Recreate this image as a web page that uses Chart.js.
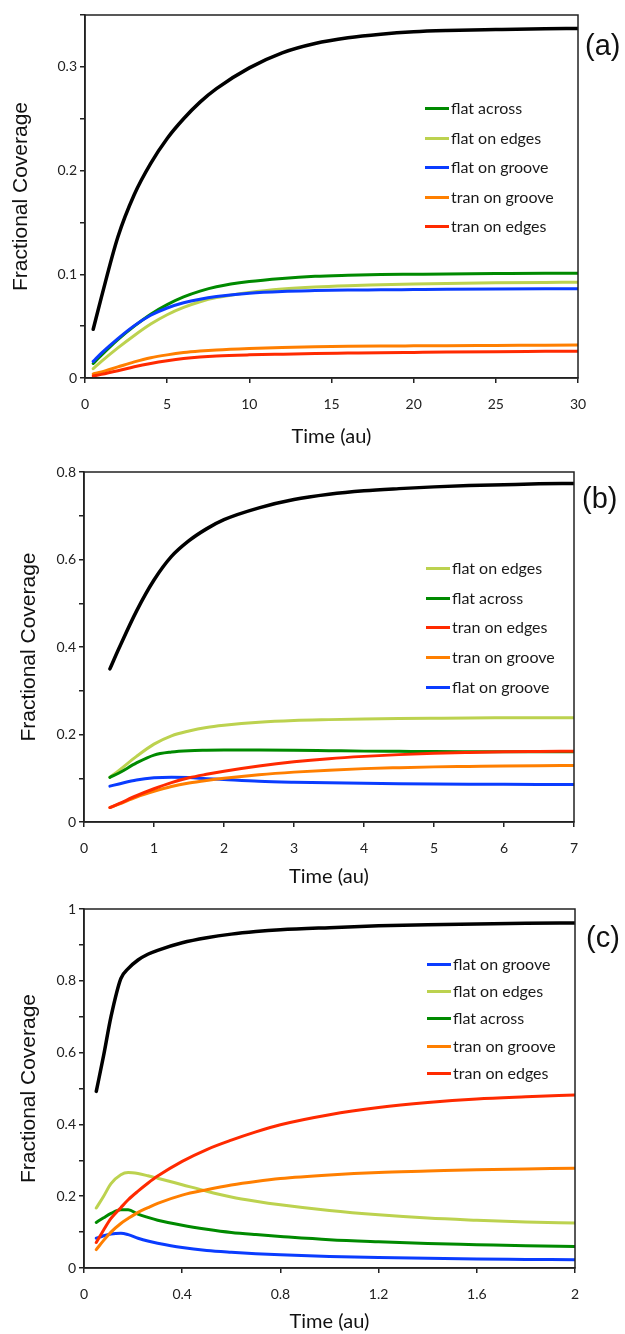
<!DOCTYPE html>
<html>
<head>
<meta charset="utf-8">
<script src="https://cdn.jsdelivr.net/npm/chart.js@4.4.0/dist/chart.umd.min.js"></script>
<style>
html, body { margin: 0; padding: 0; background: #fff; width: 625px; height: 1334px; overflow: hidden; }
.panel { position: absolute; left: 0; width: 625px; }
.tag { position: absolute; font-family: "Liberation Sans", Arial, sans-serif; font-size: 29px; line-height: 34px; color: #111; }
.legend div { position: absolute; white-space: nowrap; font-family: Lato, sans-serif; font-size: 16px; line-height: 20px; color: #1a1a1a; }
.legend span { display: inline-block; width: 24px; height: 3px; vertical-align: middle; margin-right: 2px; position: relative; top: -1px; }
</style>
</head>
<body>
<div class="panel" style="top:0;height:449px"><canvas id="chartA"></canvas></div>
<div class="panel" style="top:460px;height:429px"><canvas id="chartB"></canvas></div>
<div class="panel" style="top:895px;height:439px"><canvas id="chartC"></canvas></div>
<div class="tag" style="left:585px;top:28px">(a)</div>
<div class="tag" style="left:582px;top:481px">(b)</div>
<div class="tag" style="left:586px;top:920px">(c)</div>
<div class="legend" id="legendA"></div>
<div class="legend" id="legendB"></div>
<div class="legend" id="legendC"></div>
<script>
// colours
const colBlack = "#000000";
const colFlatAcross = "#008a00";
const colFlatEdges = "#bcd24f";
const colFlatGroove = "#0a3cff";
const colTranGroove = "#ff7f00";
const colTranEdges = "#ff2a00";

// ---- panel (a) ----
const timeA = [0.5, 1, 2, 3, 4, 5, 6, 7, 8, 10, 12, 14, 16, 18, 20, 22, 25, 28, 30];
const totalA = [0.047, 0.078, 0.136, 0.177, 0.207, 0.231, 0.25, 0.266, 0.279, 0.299, 0.3135, 0.3225, 0.328, 0.3315, 0.3338, 0.335, 0.336, 0.3368, 0.337];
const flatAcrossA = [0.014, 0.022, 0.037, 0.050, 0.0615, 0.0708, 0.0782, 0.0838, 0.088, 0.093, 0.096, 0.098, 0.099, 0.0997, 0.100, 0.1003, 0.1007, 0.101, 0.101];
const flatEdgesA = [0.009, 0.016, 0.029, 0.041, 0.052, 0.061, 0.068, 0.0735, 0.0775, 0.0825, 0.0858, 0.0878, 0.089, 0.0898, 0.0906, 0.0912, 0.0918, 0.0922, 0.0924];
const flatGrooveA = [0.016, 0.024, 0.038, 0.0505, 0.0605, 0.0675, 0.0725, 0.076, 0.0785, 0.0818, 0.0835, 0.0843, 0.0848, 0.085, 0.0853, 0.0856, 0.0859, 0.086, 0.086];
const tranGrooveA = [0.004, 0.0058, 0.0107, 0.0155, 0.0195, 0.0223, 0.0245, 0.026, 0.0271, 0.0285, 0.0295, 0.0301, 0.0305, 0.0308, 0.031, 0.0312, 0.0314, 0.0316, 0.0317];
const tranEdgesA = [0.002, 0.0035, 0.007, 0.0108, 0.014, 0.0166, 0.0187, 0.0202, 0.0212, 0.0223, 0.023, 0.0236, 0.024, 0.0244, 0.0247, 0.025, 0.0254, 0.0257, 0.0259];
const legendOrderA = ["flat across", "flat on edges", "flat on groove", "tran on groove", "tran on edges"];

// ---- panel (b) ----
const timeB = [0.37, 0.5, 0.75, 1, 1.25, 1.5, 1.75, 2, 2.5, 3, 3.5, 4, 4.5, 5, 5.5, 6, 6.5, 7];
const totalB = [0.35, 0.397, 0.482, 0.553, 0.607, 0.643, 0.67, 0.691, 0.718, 0.737, 0.749, 0.757, 0.762, 0.766, 0.769, 0.771, 0.773, 0.774];
const flatEdgesB = [0.102, 0.118, 0.150, 0.178, 0.197, 0.208, 0.216, 0.221, 0.228, 0.232, 0.234, 0.2355, 0.2365, 0.2372, 0.2378, 0.2381, 0.2384, 0.2385];
const flatAcrossB = [0.102, 0.112, 0.135, 0.153, 0.160, 0.163, 0.164, 0.1645, 0.1645, 0.164, 0.163, 0.162, 0.1615, 0.161, 0.1608, 0.1606, 0.1605, 0.1605];
const tranEdgesB = [0.033, 0.042, 0.060, 0.076, 0.090, 0.101, 0.109, 0.116, 0.128, 0.1376, 0.1448, 0.150, 0.154, 0.157, 0.159, 0.1606, 0.1614, 0.162];
const tranGrooveB = [0.033, 0.041, 0.057, 0.070, 0.081, 0.089, 0.095, 0.100, 0.108, 0.114, 0.1185, 0.122, 0.1242, 0.126, 0.127, 0.128, 0.1288, 0.1293];
const flatGrooveB = [0.082, 0.087, 0.096, 0.101, 0.1025, 0.1015, 0.099, 0.097, 0.0932, 0.091, 0.0895, 0.0884, 0.0876, 0.087, 0.0865, 0.0861, 0.0858, 0.0857];
const legendOrderB = ["flat on edges", "flat across", "tran on edges", "tran on groove", "flat on groove"];

// ---- panel (c) ----
const timeC = [0.05, 0.08, 0.11, 0.15, 0.18, 0.22, 0.26, 0.3, 0.4, 0.5, 0.6, 0.7, 0.8, 1.0, 1.2, 1.4, 1.6, 1.8, 2.0];
const totalC = [0.492, 0.592, 0.70, 0.806, 0.834, 0.858, 0.874, 0.885, 0.906, 0.920, 0.930, 0.937, 0.942, 0.948, 0.953, 0.956, 0.958, 0.960, 0.961];
const flatGrooveC = [0.083, 0.090, 0.095, 0.097, 0.093, 0.083, 0.075, 0.069, 0.057, 0.049, 0.044, 0.040, 0.037, 0.032, 0.029, 0.027, 0.025, 0.024, 0.023];
const flatEdgesC = [0.167, 0.20, 0.235, 0.26, 0.266, 0.263, 0.257, 0.25, 0.232, 0.214, 0.198, 0.186, 0.176, 0.160, 0.148, 0.139, 0.133, 0.128, 0.125];
const flatAcrossC = [0.127, 0.140, 0.152, 0.162, 0.162, 0.150, 0.141, 0.133, 0.119, 0.108, 0.099, 0.093, 0.088, 0.079, 0.073, 0.068, 0.065, 0.062, 0.060];
const tranGrooveC = [0.051, 0.077, 0.10, 0.124, 0.138, 0.155, 0.168, 0.18, 0.203, 0.218, 0.231, 0.241, 0.249, 0.259, 0.266, 0.270, 0.274, 0.276, 0.278];
const tranEdgesC = [0.071, 0.106, 0.138, 0.168, 0.19, 0.214, 0.236, 0.256, 0.297, 0.330, 0.356, 0.379, 0.399, 0.427, 0.447, 0.461, 0.471, 0.477, 0.482];
const legendOrderC = ["flat on groove", "flat on edges", "flat across", "tran on groove", "tran on edges"];

// axis ticks
const yMaxA = 0.35, yStepA = 0.05, xMaxA = 30, xStepA = 5;
const yMaxB = 0.8, yStepB = 0.1, xMaxB = 7, xStepB = 1;
const yMaxC = 1, yStepC = 0.1, xMaxC = 2, xStepC = 0.4;

const frame = {
  id: 'frame',
  afterDatasetsDraw(chart) {
    const a = chart.chartArea, ctx = chart.ctx;
    ctx.save();
    ctx.strokeStyle = '#222';
    ctx.lineWidth = 1.5;
    ctx.strokeRect(a.left, a.top, a.right - a.left, a.bottom - a.top);
    ctx.restore();
  }
};

function pts(xs, ys) {
  return xs.map((x, i) => ({x: x, y: ys[i]}));
}

function ds(label, xs, ys, color, width) {
  return {
    label: label, data: pts(xs, ys), borderColor: color, backgroundColor: color,
    borderWidth: width || 3, pointRadius: 0, fill: false,
    cubicInterpolationMode: 'monotone', borderCapStyle: 'round'
  };
}

function fmt(v) { return String(Number(v.toFixed(2))); }

function makePanel(id, datasets, cfg) {
  new Chart(id, {
    type: 'line',
    data: {datasets: datasets},
    plugins: [frame],
    options: {
      responsive: true, maintainAspectRatio: false, animation: false,
      layout: {padding: {top: cfg.padTop, left: cfg.padLeft, right: cfg.padRight, bottom: 0}},
      plugins: {legend: {display: false}, tooltip: {enabled: false}},
      scales: {
        x: {
          type: 'linear', min: 0, max: cfg.xMax,
          afterFit: s => { s.height = cfg.xHeight; },
          ticks: {stepSize: cfg.xStep, autoSkip: false, padding: 13, color: '#222',
            font: {family: 'Lato', size: 14}, maxRotation: 0, callback: v => fmt(v)},
          grid: {drawOnChartArea: false, tickLength: 5, color: '#222', lineWidth: 1.5},
          border: {color: '#222', width: 1.5},
          title: {display: true, text: 'Time (au)', color: '#111', padding: {top: 4, bottom: 0},
            font: {family: 'Lato', size: 20}}
        },
        y: {
          min: 0, max: cfg.yMax,
          afterFit: s => { s.width = cfg.yWidth; },
          ticks: {stepSize: cfg.yStep, padding: 3, color: '#222', font: {family: 'Lato', size: 14},
            callback: v => {
              const k = Math.round(v / cfg.yStep);
              return k % 2 === 0 ? fmt(v) : '';
            }},
          grid: {drawOnChartArea: false, tickLength: 5, color: '#222', lineWidth: 1.5},
          border: {color: '#222', width: 1.5},
          title: {display: true, text: 'Fractional Coverage', color: '#111', padding: {top: 4, bottom: 4},
            font: {family: '"Liberation Sans", Arial, sans-serif', size: 21}}
        }
      }
    }
  });
}

function makeLegend(id, order, datasets, rows, left) {
  const box = document.getElementById(id);
  order.forEach((name, i) => {
    const d = datasets.find(s => s.label === name);
    const row = document.createElement('div');
    row.style.left = left + 'px';
    row.style.top = (rows[i] - 10) + 'px';
    row.innerHTML = '<span style="background:' + d.borderColor + '"></span>' + name;
    box.appendChild(row);
  });
}

// first dataset is drawn on top
const setsA = [
  ds('total', timeA, totalA, colBlack, 3.5),
  ds('tran on edges', timeA, tranEdgesA, colTranEdges),
  ds('tran on groove', timeA, tranGrooveA, colTranGroove),
  ds('flat on groove', timeA, flatGrooveA, colFlatGroove),
  ds('flat across', timeA, flatAcrossA, colFlatAcross),
  ds('flat on edges', timeA, flatEdgesA, colFlatEdges)
];
const setsB = [
  ds('total', timeB, totalB, colBlack, 3.5),
  ds('tran on edges', timeB, tranEdgesB, colTranEdges),
  ds('tran on groove', timeB, tranGrooveB, colTranGroove),
  ds('flat on groove', timeB, flatGrooveB, colFlatGroove),
  ds('flat across', timeB, flatAcrossB, colFlatAcross),
  ds('flat on edges', timeB, flatEdgesB, colFlatEdges)
];
const setsC = [
  ds('total', timeC, totalC, colBlack, 3.5),
  ds('tran on edges', timeC, tranEdgesC, colTranEdges),
  ds('tran on groove', timeC, tranGrooveC, colTranGroove),
  ds('flat on groove', timeC, flatGrooveC, colFlatGroove),
  ds('flat across', timeC, flatAcrossC, colFlatAcross),
  ds('flat on edges', timeC, flatEdgesC, colFlatEdges)
];

makePanel('chartA', setsA, {padTop: 15, padLeft: 5, padRight: 47, yWidth: 80, xHeight: 71,
  xMax: xMaxA, xStep: xStepA, yMax: yMaxA, yStep: yStepA});
makePanel('chartB', setsB, {padTop: 12, padLeft: 13, padRight: 51, yWidth: 71, xHeight: 67,
  xMax: xMaxB, xStep: xStepB, yMax: yMaxB, yStep: yStepB});
makePanel('chartC', setsC, {padTop: 14, padLeft: 13, padRight: 50, yWidth: 71, xHeight: 66,
  xMax: xMaxC, xStep: xStepC, yMax: yMaxC, yStep: yStepC});

makeLegend('legendA', legendOrderA, setsA, [108, 138, 167, 197, 226], 425);
makeLegend('legendB', legendOrderB, setsB, [568, 598, 627, 657, 687], 426);
makeLegend('legendC', legendOrderC, setsC, [964, 991, 1018, 1046, 1073], 427);
</script>
</body>
</html>
